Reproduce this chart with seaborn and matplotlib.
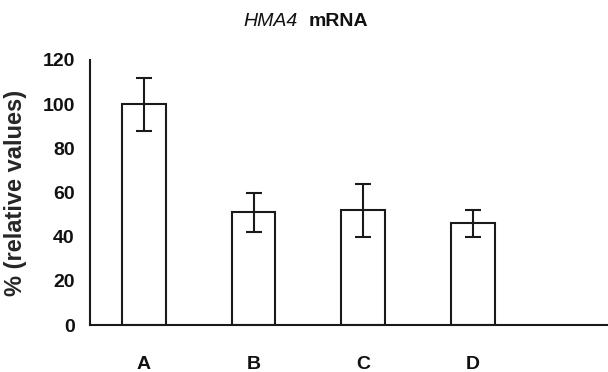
import numpy as np
import pandas as pd
import matplotlib.pyplot as plt
import seaborn as sns

samples = ["A", "B", "C", "D"]
rel_values = [100, 51, 52, 46]
errors = [12, 9, 12, 6]

sns.set_style("white")
plt.rcParams['font.family'] = ['Liberation Sans', 'DejaVu Sans']
plt.rcParams['text.color'] = '#111111'
plt.rcParams['xtick.color'] = '#111111'
plt.rcParams['ytick.color'] = '#111111'

df = pd.DataFrame({'sample': samples, 'value': rel_values, 'err': errors})

fig = plt.figure(figsize=(6.08, 3.72), dpi=100)
ax = fig.add_axes([90 / 608, 1 - 325 / 372, 518 / 608, 265 / 372])

sns.barplot(df, x='sample', y='value', color='white', edgecolor='#1a1a1a',
            linewidth=1.5, width=0.4, saturation=1, ax=ax)
ax.errorbar(np.arange(len(samples)), df['value'], yerr=df['err'], fmt='none',
            ecolor='#1a1a1a', elinewidth=1.5, capsize=5.5, capthick=1.5)

ax.set_ylim(0, 120)
ax.set_xlim(-0.49, 4.23)
ax.set_yticks(range(0, 121, 20))
ax.tick_params(axis='y', length=0, pad=11, labelsize=14)
ax.tick_params(axis='x', length=0, pad=22, labelsize=14)
for lab in ax.get_xticklabels() + ax.get_yticklabels():
    lab.set_fontweight('bold')

sns.despine(ax=ax, top=True, right=True)
for side in ['left', 'bottom']:
    ax.spines[side].set_color('#1a1a1a')
    ax.spines[side].set_linewidth(1.5)

ax.set_xlabel("")
ax.set_ylabel("% (relative values)", fontsize=17, fontweight='bold', va='center')
ax.yaxis.set_label_coords(-0.143, 0.5)

fig.text(243 / 608, 1 - 21 / 372, "HMA4", fontsize=14, style='italic', va='center')
fig.text(309 / 608, 1 - 21 / 372, "mRNA", fontsize=14, fontweight='bold', va='center')

fig.savefig("out.png", dpi=100)
